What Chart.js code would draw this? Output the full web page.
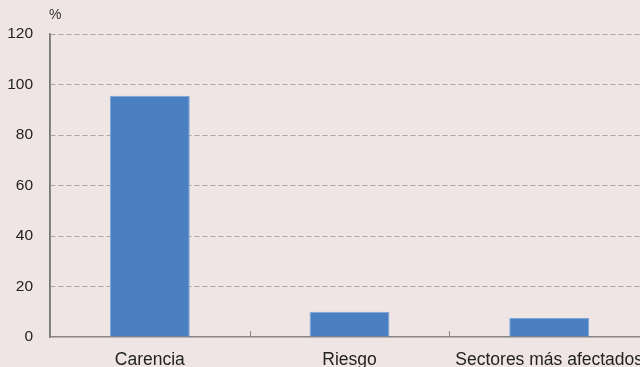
<!DOCTYPE html>
<html>
<head>
<meta charset="utf-8">
<script src="https://cdn.jsdelivr.net/npm/chart.js@4"></script>
<style>
  html, body { margin: 0; padding: 0; background: #efe5e4; overflow: hidden; }
  #wrap { width: 700px; height: 367px; }
</style>
</head>
<body>
<div id="wrap"><canvas id="barChart" width="700" height="367"></canvas></div>
<script>
// Datos del gráfico
const categorias = ['Carencia', 'Riesgo', 'Sectores más afectados'];
const valores = [95.5, 10, 7.5];
const ticksY = [0, 20, 40, 60, 80, 100, 120];
const unidad = '%';

// Plugin: texto de unidad encima del eje Y, eje Y sólido y marcas cortas entre categorías
const extras = {
    id: 'extras',
    afterDraw(chart) {
        const ctx = chart.ctx;
        const area = chart.chartArea;
        const x = chart.scales.x;
        ctx.save();
        ctx.fillStyle = '#333';
        ctx.font = '14px "Liberation Sans", Arial, sans-serif';
        ctx.textBaseline = 'middle';
        ctx.fillText(unidad, area.left - 1, area.top - 19);
        ctx.setLineDash([]);
        // eje Y sólido
        ctx.strokeStyle = '#7a7a7a';
        ctx.lineWidth = 1.5;
        ctx.beginPath();
        ctx.moveTo(area.left, area.top);
        ctx.lineTo(area.left, area.bottom);
        ctx.stroke();
        // marcas hacia arriba en los límites de categoría
        ctx.strokeStyle = '#8a8484';
        ctx.lineWidth = 1;
        for (let i = 1; i < categorias.length; i++) {
            const px = Math.round((x.getPixelForValue(i - 1) + x.getPixelForValue(i)) / 2) + 0.5;
            ctx.beginPath();
            ctx.moveTo(px, area.bottom);
            ctx.lineTo(px, area.bottom - 6);
            ctx.stroke();
        }
        ctx.restore();
    }
};

const ctxBar = document.getElementById('barChart').getContext('2d');
const barChart = new Chart(ctxBar, {
    type: 'bar',
    data: {
        labels: categorias,
        datasets: [{
            data: valores,
            backgroundColor: '#4a80c2',
            borderColor: '#7fa5d8',
            borderWidth: 1,
            barPercentage: 0.4,
            categoryPercentage: 1.0
        }]
    },
    options: {
        responsive: false,
        animation: false,
        layout: { padding: { top: 34, right: 51, left: 0, bottom: 0 } },
        plugins: { legend: { display: false }, tooltip: { enabled: false } },
        scales: {
            x: {
                afterFit(scale) { scale.height = 30; },
                grid: { display: false, drawTicks: false },
                border: { display: true, color: '#8a8484', width: 1.5 },
                ticks: {
                    padding: 13,
                    color: '#222',
                    maxRotation: 0,
                    autoSkip: false,
                    font: { family: '"Liberation Sans", Arial, sans-serif', size: 17.5 }
                }
            },
            y: {
                min: 0,
                max: 120,
                afterFit(scale) { scale.width = 50; },
                afterBuildTicks(scale) { scale.ticks = ticksY.map(v => ({ value: v })); },
                grid: {
                    drawTicks: false,
                    color: (c) => c.tick.value === 0 ? 'rgba(0,0,0,0)' : '#a9a6a6',
                    lineWidth: 1
                },
                border: { display: true, color: '#7a7a7a', width: 1.5, dash: [5, 3] },
                ticks: {
                    padding: 17,
                    color: '#222',
                    font: { family: '"Liberation Sans", Arial, sans-serif', size: 15.5 }
                }
            }
        }
    },
    plugins: [extras]
});
</script>
</body>
</html>
